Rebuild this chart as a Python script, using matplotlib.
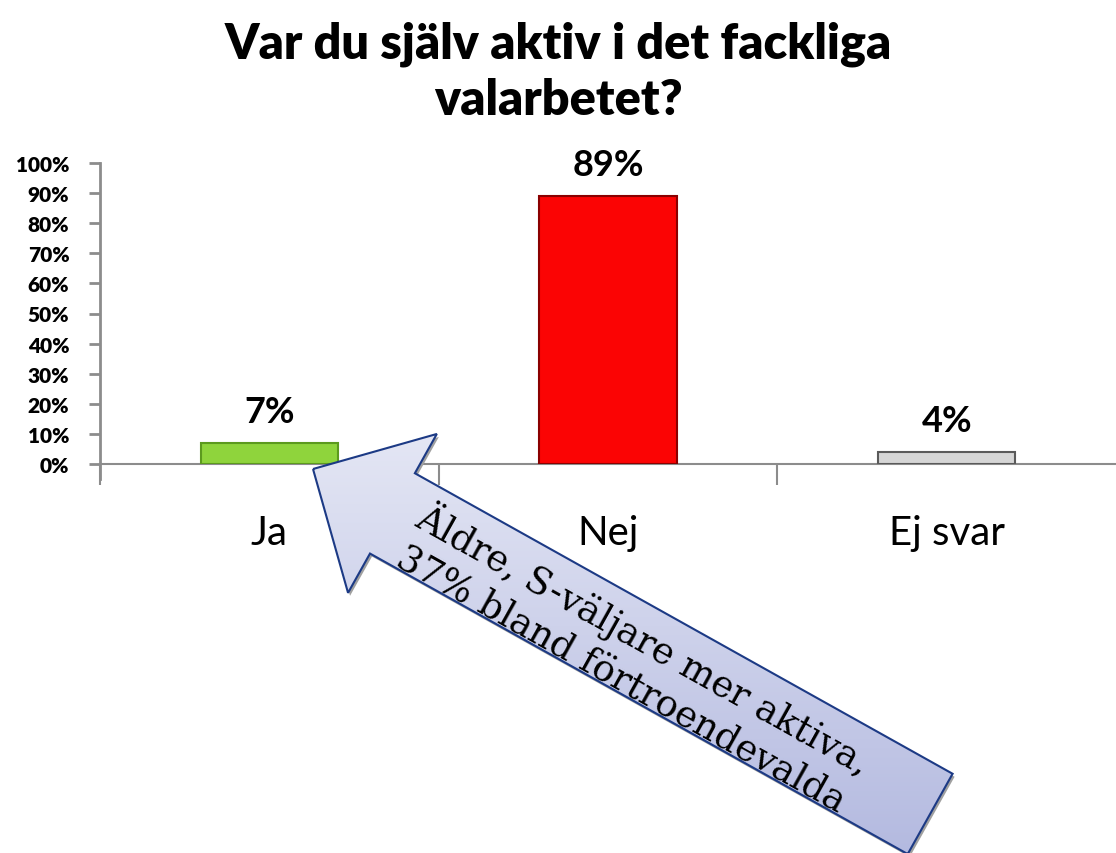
import numpy as np
import matplotlib
matplotlib.use("Agg")
import matplotlib.pyplot as plt
from matplotlib.patches import Polygon
from matplotlib.ticker import PercentFormatter

# data
categories = ["Ja", "Nej", "Ej svar"]
values = [7, 89, 4]
bar_colors = ["#8fd43c", "#fb0404", "#d6d6d6"]
edge_colors = ["#5c9a1e", "#8a0000", "#5a5a5a"]
title = "Var du själv aktiv i det fackliga\nvalarbetet?"
note = "Äldre, S-väljare mer aktiva,\n37% bland förtroendevalda"

W, H = 1116, 854
fig = plt.figure(figsize=(W / 100, H / 100), dpi=100)
fig.patch.set_facecolor("white")

sans = ["Lato", "DejaVu Sans"]
grey = "#8c8c8c"

ax = fig.add_axes([100 / W, (H - 465) / H, 1 - 100 / W, 301 / H])
x = np.arange(len(categories))
bars = ax.bar(x, values, width=0.405, color=bar_colors, edgecolor=edge_colors, linewidth=1.5, zorder=3)
ax.set_xlim(-0.5, 2.5)
ax.set_ylim(0, 100)
ax.set_yticks(np.arange(0, 101, 10))
ax.yaxis.set_major_formatter(PercentFormatter(decimals=0))
ax.set_xticks([-0.5, 0.5, 1.5], minor=False)
ax.set_xticklabels([])
ax.set_xticks(x, minor=True)
ax.set_xticklabels(categories, minor=True, fontsize=29, family=sans)
ax.tick_params(axis="x", which="major", direction="out", length=15, width=1.5, color=grey)
ax.tick_params(axis="x", which="minor", length=0, pad=36)
ax.tick_params(axis="y", direction="out", length=8, width=2, color=grey, pad=14)
for lab in ax.get_yticklabels():
    lab.set_fontweight("heavy")
    lab.set_fontsize(15)
    lab.set_family(sans)
for s in ["top", "right"]:
    ax.spines[s].set_visible(False)
ax.spines["left"].set_color(grey)
ax.spines["left"].set_linewidth(2)
ax.spines["left"].set_bounds(-5, 100)
ax.spines["bottom"].set_color(grey)
ax.spines["bottom"].set_linewidth(1.5)

for b, v in zip(bars, values):
    ax.text(b.get_x() + b.get_width() / 2, v + 5, f"{v}%", ha="center", va="bottom",
            fontsize=26, family=sans, fontweight="bold")

fig.text(0.5, 1 - 72 / H, title, ha="center", va="center", fontsize=35,
         fontweight="heavy", family=sans, linespacing=1.3)

# callout arrow (pixel space overlay)
ov = fig.add_axes([0, 0, 1, 1], zorder=5)
ov.set_xlim(0, W)
ov.set_ylim(H, 0)
ov.axis("off")

tip = np.array([313.0, 470.0])
ang = np.deg2rad(29.2)
u = np.array([np.cos(ang), np.sin(ang)])
n = np.array([-np.sin(ang), np.cos(ang)])
head_len, head_half, shaft_half, shaft_len = 91, 91, 46, 616
base = tip + u * head_len
end = base + u * shaft_len
pts = np.array([tip,
                base - n * head_half,
                base - n * shaft_half,
                end - n * shaft_half,
                end + n * shaft_half,
                base + n * shaft_half,
                base + n * head_half])

shadow = Polygon(pts + np.array([2, 3]), closed=True, facecolor="#a0a0a0", edgecolor="none", zorder=1)
ov.add_patch(shadow)
grad = np.linspace(0, 1, 256).reshape(-1, 1)
cmap = matplotlib.colors.LinearSegmentedColormap.from_list("g", ["#e8eaf6", "#b4bae0"])
img = ov.imshow(grad, extent=[0, W, H, 400], origin="upper", aspect="auto", cmap=cmap, zorder=2)
poly = Polygon(pts, closed=True, facecolor="none", edgecolor="#1c3a85", linewidth=1.5, zorder=3)
ov.add_patch(poly)
img.set_clip_path(poly)
ov.set_xlim(0, W)
ov.set_ylim(H, 0)

mid = base + u * shaft_len * 0.455 + n * 8
ov.text(mid[0], mid[1], note, rotation=-np.rad2deg(ang), rotation_mode="anchor",
        ha="center", va="center", fontsize=26.5, family=["DejaVu Serif"], linespacing=1.3, zorder=4)

fig.savefig("out.png", dpi=100, facecolor="white")
